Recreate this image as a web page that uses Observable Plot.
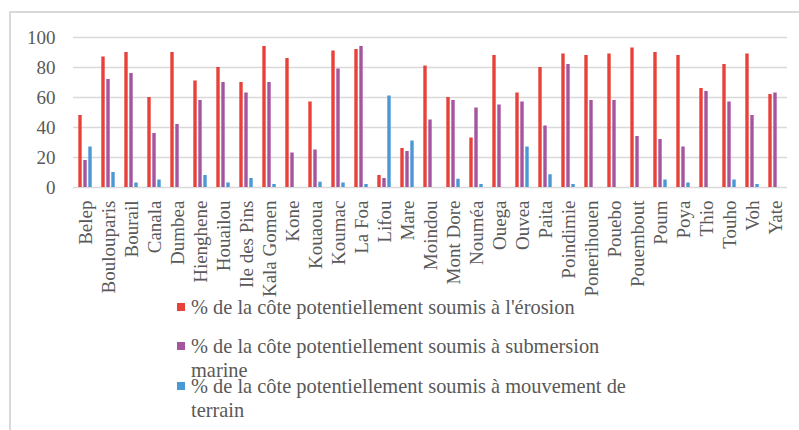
<!DOCTYPE html>
<html>
<head>
<meta charset="utf-8">
<script src="https://cdn.jsdelivr.net/npm/d3@7"></script>
<script src="https://cdn.jsdelivr.net/npm/@observablehq/plot@0.6"></script>
<style>
  html, body { margin: 0; padding: 0; background: #fff; }
  #wrap { position: relative; width: 799px; height: 430px; overflow: hidden; font-family: "Liberation Serif", "Times New Roman", serif; color: #595959; }
  #frame { position: absolute; left: 9px; top: 11px; width: 820px; height: 440px; border-top: 2px solid #d9d9d9; border-left: 2px solid #d9d9d9; box-sizing: border-box; }
  #chart { position: absolute; left: 0; top: 0; }
  #chart svg { overflow: visible; }
  #chart svg text { font-family: "Liberation Serif", "Times New Roman", serif; }
  .leg { position: absolute; left: 191px; width: 440px; font-size: 20.4px; line-height: 24px; }
  .sw { position: absolute; left: -14px; top: 8px; width: 8px; height: 8px; }
</style>
</head>
<body>
<div id="wrap">
  <div id="frame"></div>
  <div id="chart"></div>
  <div id="legend"></div>
</div>
<script>
const communes = ["Belep","Boulouparis","Bourail","Canala","Dumbea","Hienghene","Houailou","Ile des Pins","Kala Gomen","Kone","Kouaoua","Koumac","La Foa","Lifou","Mare","Moindou","Mont Dore","Nouméa","Ouega","Ouvea","Paita","Poindimie","Ponerihouen","Pouebo","Pouembout","Poum","Poya","Thio","Touho","Voh","Yate"];
const erosion    = [48, 87, 90, 60, 90, 71, 80, 70, 94, 86, 57, 91, 92, 8, 26, 81, 60, 33, 88, 63, 80, 89, 88, 89, 93, 90, 88, 66, 82, 89, 62];
const submersion = [18, 72, 76, 36, 42, 58, 70, 63, 70, 23, 25, 79, 94, 6, 24, 45, 58, 53, 55, 57, 41, 82, 58, 58, 34, 32, 27, 64, 57, 48, 63];
const mouvement  = [27, 10, 3, 5, 0, 8, 3, 6, 2, 0, 3.5, 3, 2, 61, 31, 0, 5.5, 2, 0, 27, 8.5, 2, 0, 0, 0, 5, 3, 0, 5, 2, 0];
const seriesLabels = [
  "% de la côte potentiellement soumis à l'érosion",
  "% de la côte potentiellement soumis à submersion marine",
  "% de la côte potentiellement soumis à mouvement de terrain"
];
const colors = ["#e8413a", "#a5559f", "#4a98d4"];
const yTicks = [0, 20, 40, 60, 80, 100];

const seriesValues = [erosion, submersion, mouvement];
const offsets = [-5, 0, 5];
const tables = seriesValues.map((vals, s) => communes.map((c, i) => ({commune: c, serie: seriesLabels[s], value: vals[i]})));

const chart = Plot.plot({
  width: 799,
  height: 320,
  marginLeft: 73,
  marginRight: 12,
  marginTop: 37,
  marginBottom: 133,
  style: {fontFamily: "'Liberation Serif', 'Times New Roman', serif", fontSize: "19px", color: "#595959", background: "transparent", overflow: "visible"},
  x: {domain: communes, paddingInner: 0.83, paddingOuter: 0.415, label: null},
  y: {domain: [0, 100], label: null},
  color: {domain: seriesLabels, range: colors},
  marks: [
    Plot.ruleY(yTicks, {stroke: "#d9d9d9", strokeWidth: 1.6}),
    ...tables.map((t, s) => Plot.barY(t.filter(d => d.value > 0), {x: "commune", y: "value", fill: "serie", dx: offsets[s], insetLeft: 0.3, insetRight: 0.3})),
    Plot.axisY({ticks: yTicks, tickSize: 0, tickPadding: 18, label: null, fill: "#595959", fontSize: 19}),
    Plot.axisX({tickRotate: -90, tickSize: 0, tickPadding: 13, label: null, fill: "#595959", fontSize: 19})
  ]
});
document.getElementById("chart").appendChild(chart);

const legendTops = [295, 334, 374];
const legend = document.getElementById("legend");
seriesLabels.forEach((lab, i) => {
  const d = document.createElement("div");
  d.className = "leg";
  d.style.top = legendTops[i] + "px";
  const sw = document.createElement("span");
  sw.className = "sw";
  sw.style.background = colors[i];
  d.appendChild(sw);
  d.appendChild(document.createTextNode(lab));
  legend.appendChild(d);
});
</script>
</body>
</html>
